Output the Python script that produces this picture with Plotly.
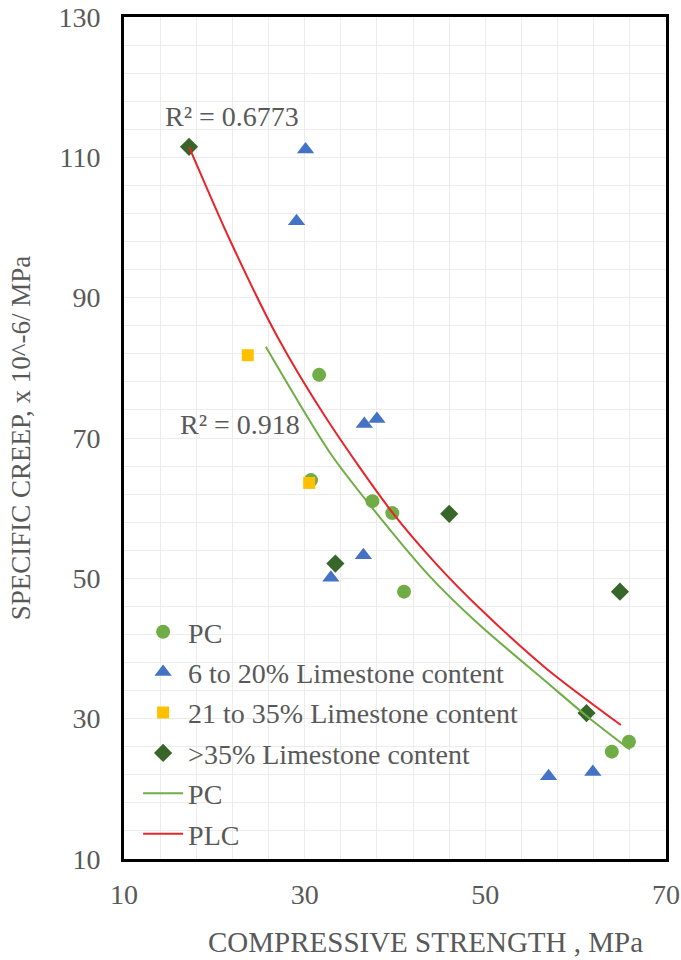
import plotly.graph_objects as go

# Measured specimens: compressive strength (MPa) vs specific creep (x10^-6/MPa)
pc_strength = [31.6, 30.7, 37.5, 39.7, 41.0, 64.0, 65.9]
pc_creep = [79.0, 64.0, 61.0, 59.3, 48.1, 25.3, 26.7]

ls_6_20_strength = [30.1, 29.1, 36.6, 38.0, 36.5, 32.9, 57.0, 61.9]
ls_6_20_creep = [111.1, 100.9, 72.0, 72.7, 53.3, 50.1, 21.8, 22.4]

ls_21_35_strength = [23.7, 30.5]
ls_21_35_creep = [81.8, 63.6]

ls_35_strength = [17.2, 33.4, 46.0, 64.9, 61.2]
ls_35_creep = [111.5, 52.1, 59.2, 48.1, 30.8]

# Trend curves (PC and PLC)
pc_trend_x = [25.7, 32.8, 37.5, 43.9, 49.4, 56.7, 61.1, 66.0]
pc_trend_y = [83.0, 67.9, 60.0, 50.2, 43.3, 35.3, 30.5, 25.6]

plc_trend_x = [17.2, 21.8, 26.95, 32.5, 39.7, 44.6, 49.4, 56.7, 65.0]
plc_trend_y = [111.5, 98.0, 84.5, 72.6, 59.4, 52.0, 45.7, 37.2, 29.1]

r2_pc = "R² = 0.918"
r2_plc = "R² = 0.6773"

x_title = "COMPRESSIVE STRENGTH , MPa"
y_title = "SPECIFIC CREEP, x 10^-6/ MPa"

x_ticks = [10, 30, 50, 70]
y_ticks = [10, 30, 50, 70, 90, 110, 130]

FONT = "Liberation Serif, Times New Roman, serif"
TEXT_GRAY = "#595959"
GRID = "#ececec"

fig = go.Figure()

fig.add_trace(go.Scatter(
    x=pc_strength, y=pc_creep, mode="markers", name="PC", legendgroup="a",
    marker=dict(symbol="circle", size=14, color="#70AD47"),
))
fig.add_trace(go.Scatter(
    x=ls_6_20_strength, y=ls_6_20_creep, mode="markers",
    name="6 to 20% Limestone content", legendgroup="b",
    marker=dict(symbol="triangle-up", size=15, color="#4472C4"),
))
fig.add_trace(go.Scatter(
    x=ls_21_35_strength, y=ls_21_35_creep, mode="markers",
    name="21 to 35% Limestone content", legendgroup="c",
    marker=dict(symbol="square", size=12, color="#FFC000"),
))
fig.add_trace(go.Scatter(
    x=ls_35_strength, y=ls_35_creep, mode="markers",
    name=">35% Limestone content", legendgroup="d",
    marker=dict(symbol="diamond", size=14, color="#38662A"),
))
fig.add_trace(go.Scatter(
    x=pc_trend_x, y=pc_trend_y, mode="lines", name="PC", legendgroup="e",
    line=dict(color="#70AD47", width=2, shape="spline", smoothing=0.8),
))
fig.add_trace(go.Scatter(
    x=plc_trend_x, y=plc_trend_y, mode="lines", name="PLC", legendgroup="f",
    line=dict(color="#E8242A", width=2, shape="spline", smoothing=0.8),
))

fig.add_annotation(x=21.9, y=115.8, text=r2_plc, showarrow=False,
                   font=dict(family=FONT, size=28, color=TEXT_GRAY))
fig.add_annotation(x=22.8, y=71.9, text=r2_pc, showarrow=False,
                   font=dict(family=FONT, size=28, color=TEXT_GRAY))

# x-axis title sits a little right of the plot centre
fig.add_annotation(xref="paper", yref="paper", x=0.557, y=-0.099,
                   xanchor="center", yanchor="middle", text=x_title,
                   showarrow=False,
                   font=dict(family=FONT, size=29, color=TEXT_GRAY))

axis_common = dict(
    showline=True, linecolor="black", linewidth=3, mirror=True,
    showgrid=True, gridcolor=GRID, gridwidth=1,
    zeroline=False, ticks="", automargin=False,
    tickfont=dict(family=FONT, size=28, color=TEXT_GRAY),
)

fig.update_xaxes(
    range=[10, 70], tickvals=x_ticks, ticklabelstandoff=8,
    minor=dict(dtick=4, tick0=10, showgrid=True, gridcolor=GRID, ticks=""),
    **axis_common,
)
fig.update_yaxes(
    range=[10, 130], tickvals=y_ticks, ticklabelstandoff=15,
    minor=dict(dtick=4, tick0=10, showgrid=True, gridcolor=GRID, ticks=""),
    title=dict(text=y_title, standoff=20,
               font=dict(family=FONT, size=27, color=TEXT_GRAY)),
    **axis_common,
)

fig.update_layout(
    width=681, height=960,
    margin=dict(l=124, r=15, t=17, b=101),
    paper_bgcolor="white", plot_bgcolor="white",
    showlegend=True,
    legend=dict(
        x=0.026, y=0.0, xanchor="left", yanchor="bottom",
        bgcolor="rgba(0,0,0,0)", borderwidth=0,
        font=dict(family=FONT, size=28, color=TEXT_GRAY),
        tracegroupgap=1, itemwidth=40,
    ),
)

fig.write_html("out.html")
